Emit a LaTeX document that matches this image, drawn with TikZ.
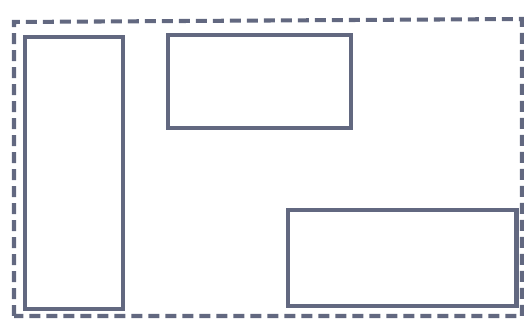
\documentclass[tikz,border=0pt]{standalone}
\usepackage{tikz}
\usetikzlibrary{positioning}
\definecolor{sketchSlate}{RGB}{98,104,128}
\tikzset{
  panel/.style={draw=sketchSlate,line width=2.3pt,rectangle,inner sep=0pt},
  frameline/.style={draw=sketchSlate,line width=2.3pt,dash pattern=on 0.22cm off 0.12cm}
}

\begin{document}
\begin{tikzpicture}[x=0.02cm,y=-0.02cm]
  \useasboundingbox (0,0) rectangle (524,320);
  % outer frame
  \draw[frameline] (14,316) -- (14,22) -- (522,19) -- (522,316) -- cycle;
  % panels
  \node[panel,minimum width=1.96cm,minimum height=5.44cm] (side) at (74,173) {};
  \node[panel,minimum width=3.66cm,minimum height=1.86cm] (head) at (259.5,81.5) {};
  \node[panel,minimum width=4.58cm,minimum height=1.92cm] (foot) at (402,258) {};
\end{tikzpicture}
\end{document}
